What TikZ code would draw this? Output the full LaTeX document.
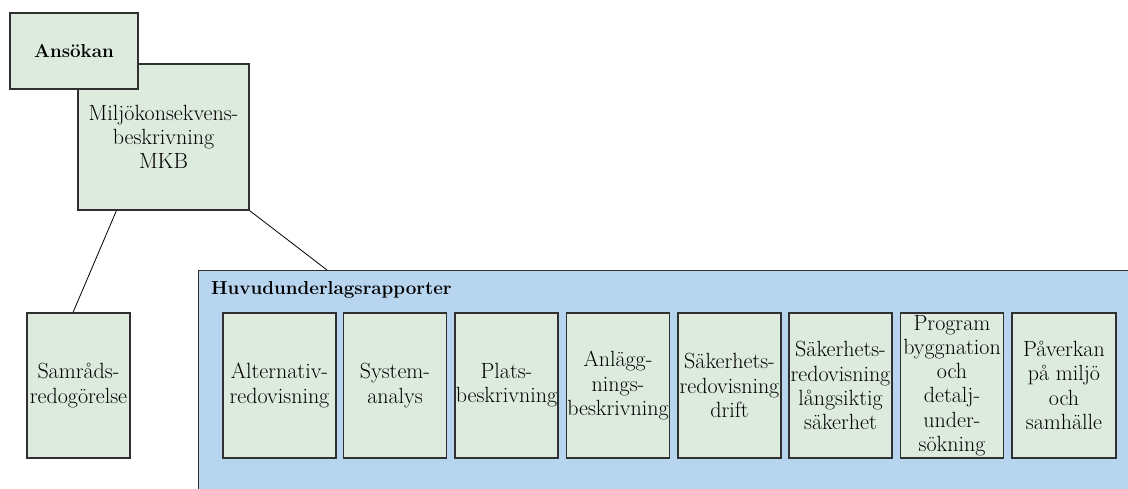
\documentclass[tikz,border=0pt]{standalone}
\usetikzlibrary{calc}
\definecolor{boxgreen}{HTML}{DDEBDF}
\definecolor{hubblue}{HTML}{B8D5F0}
\definecolor{edge}{HTML}{303030}
\tikzset{
  gbox/.style={draw=edge, line width=1.1pt, fill=boxgreen, inner sep=0pt,
    align=center, font=\fontsize{22}{24.2}\selectfont},
  smallbox/.style={gbox, minimum width=103pt, minimum height=145pt},
  boldtext/.style={font=\bfseries\fontsize{18.8}{24}\selectfont},
  link/.style={draw=black, line width=0.8pt}
}
\begin{document}
\begin{tikzpicture}[x=1pt,y=-1pt]
\useasboundingbox (0,0) rectangle (1128,488);
\begin{scope}
\clip (0,0) rectangle (1128,488);
\node[draw=edge, line width=1.1pt, fill=hubblue, anchor=north west, inner sep=0pt,
      minimum width=960pt, minimum height=240pt] (hub) at (198,270) {};
\end{scope}
\node[anchor=west, boldtext, inner sep=0pt] (hubtitle) at (211,290) {Huvudunderlagsrapporter};

\node[gbox, minimum width=171pt, minimum height=146pt] (mkb) at (163.5,137) {Miljökonsekvens-\\beskrivning\\MKB};
\node[gbox, minimum width=128pt, minimum height=76pt, boldtext] (ans) at (74,51) {Ansökan};
\node[gbox, minimum width=103pt, minimum height=145pt] (samrad) at (78.5,385.5) {Samråds-\\redogörelse};

\node[smallbox, minimum width=113pt] (alt) at (279.5,385.5) {Alternativ-\\redovisning};
\node[smallbox] (sys) at (395,385.5) {System-\\analys};
\node[smallbox] (plats) at (506.5,385.5) {Plats-\\beskrivning};
\node[smallbox] (anl) at (618,385.5) {Anlägg-\\nings-\\beskrivning};
\node[smallbox] (sakd) at (729.5,385.5) {Säkerhets-\\redovisning\\drift};
\node[smallbox] (sakl) at (840.5,385.5) {Säkerhets-\\redovisning\\långsiktig\\säkerhet};
\node[smallbox] (prog) at (952,385.5) {Program\\byggnation\\och\\detalj-\\under-\\sökning};
\node[smallbox, minimum width=104pt] (pav) at (1064,385.5) {Påverkan\\på miljö\\och\\samhälle};

\draw[link] ([xshift=39pt]mkb.south west) -- ([xshift=-5.5pt]samrad.north);
\draw[link] (mkb.south east) -- ([xshift=129pt]hub.north west);
\end{tikzpicture}
\end{document}
